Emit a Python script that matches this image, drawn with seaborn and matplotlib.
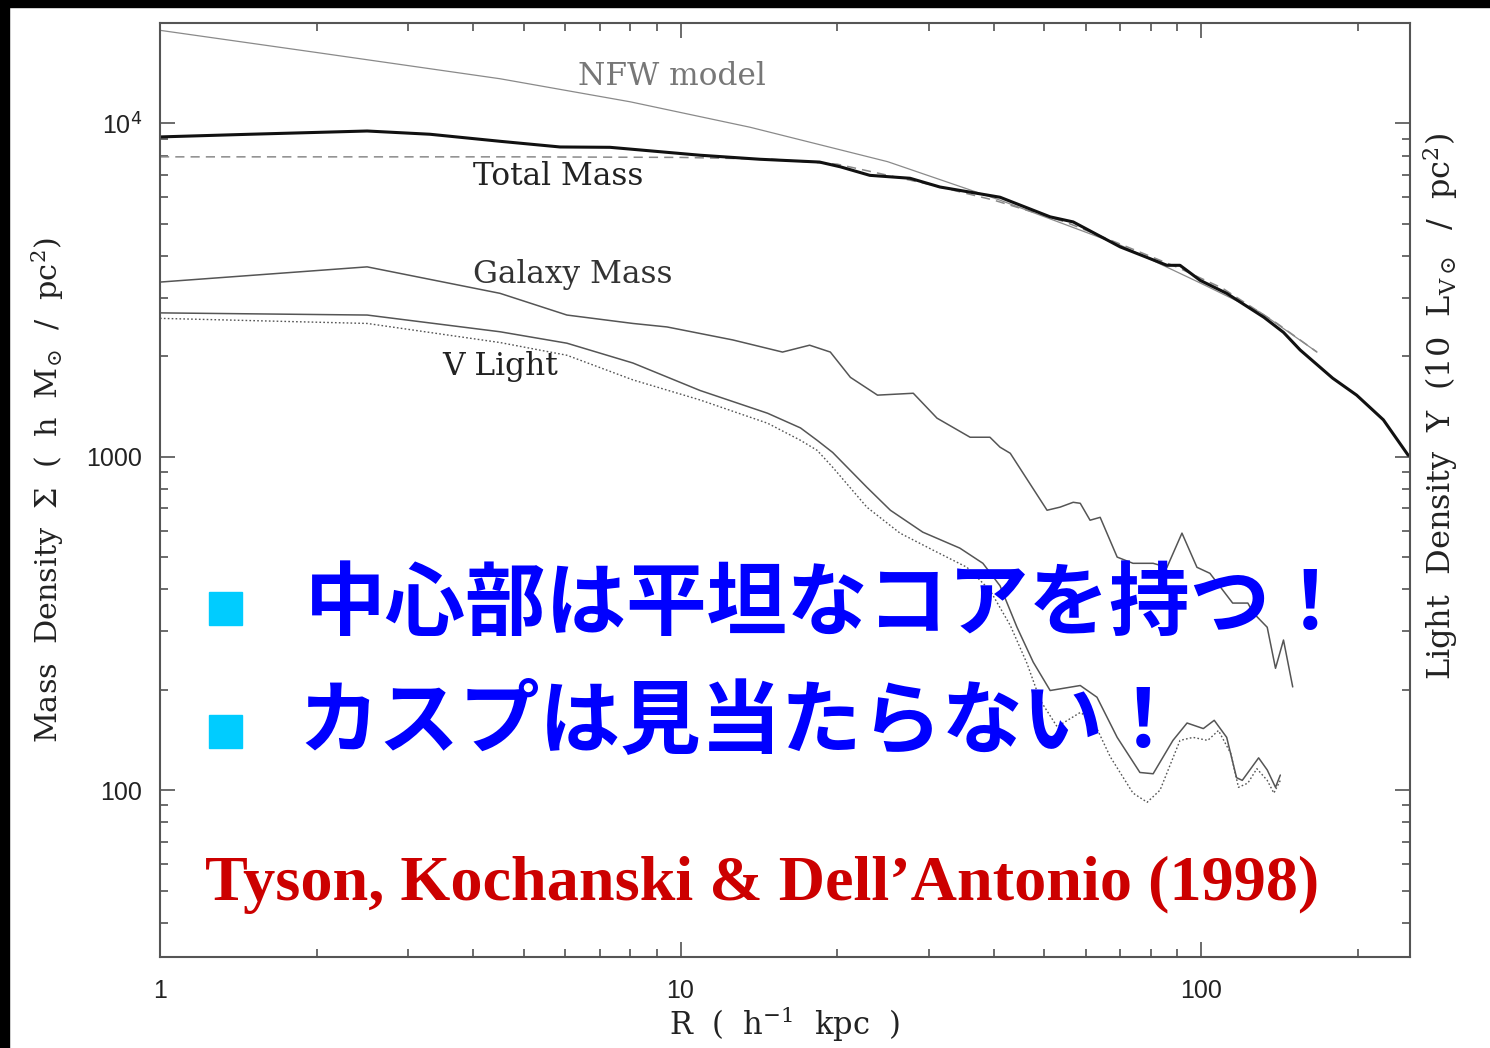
import numpy as np
import matplotlib
matplotlib.use("Agg")
import matplotlib.pyplot as plt
from matplotlib.patches import Rectangle
from matplotlib.ticker import LogLocator, NullFormatter
import seaborn as sns

# ---- surface density profiles: R in h^-1 kpc, Sigma in h Msun / pc^2 ----
total_r = [1.0, 1.49, 2.5, 3.3, 4.5, 5.87, 7.32, 10.9, 14.2, 18.5, 20.3, 23.1, 27.6, 31.5,
           41.1, 51.3, 56.8, 69.9, 86.0, 91.1, 99.6, 112, 132, 144, 155, 179, 199, 224, 250]
total_sigma = [9100, 9270, 9480, 9270, 8830, 8490, 8470, 8020, 7800, 7650, 7400, 6980, 6840, 6440,
               6000, 5240, 5060, 4260, 3750, 3750, 3380, 3090, 2620, 2360, 2090, 1720, 1530, 1290, 1010]

core_r = [1, 5, 10, 15, 20, 30, 40, 55, 70, 90, 110, 140, 167]
core_sigma = [7930, 7930, 7900, 7800, 7540, 6560, 5880, 5050, 4340, 3700, 3200, 2510, 2060]

nfw_r = [1, 2, 4.5, 8, 13.6, 25, 41.1, 70, 100, 130, 167]
nfw_sigma = [19000, 16300, 13600, 11600, 9730, 7670, 5880, 4310, 3310, 2710, 2060]

galaxy_r = [1, 2.5, 4.5, 6.05, 8.1, 9.42, 12.6, 15.7, 17.7, 19.4, 21.2, 23.9, 28.0, 31.1, 36.0,
            39.3, 41.1, 43.0, 50.6, 53.6, 56.8, 58.6, 61.2, 64.0, 69.0, 74.0, 80.9, 86.0, 91.9,
            98.2, 104, 115, 123, 126, 134, 139, 144, 150]
galaxy_sigma = [3340, 3710, 3090, 2660, 2510, 2450, 2240, 2060, 2160, 2060, 1730, 1530, 1550, 1305, 1144,
                1144, 1068, 1024, 691, 706, 730, 725, 645, 658, 500, 479, 479, 466, 590,
                466, 447, 364, 364, 340, 308, 232, 282, 204]

vlight_r = [1, 2.5, 4.5, 6.05, 8.1, 10.9, 14.7, 17.0, 18.3, 19.6, 22.8, 25.3, 29.2, 34.4, 38.1,
            41.1, 44.3, 47.6, 51.3, 58.6, 63.1, 69.0, 76.3, 80.9, 88.3, 94.0, 101, 106, 112, 117,
            120, 129, 134, 139, 142]
vlight_sigma = [2700, 2660, 2370, 2190, 1910, 1580, 1350, 1220, 1120, 1030, 810, 691, 594, 532, 479,
                410, 308, 242, 199, 206, 190, 144, 113, 112, 141, 159, 153, 162, 144, 109,
                107, 125, 115, 102, 111]

vdot_r = [1, 2.5, 4.5, 6.05, 8.1, 10.9, 14.7, 17.0, 18.3, 19.6, 22.8, 26.4, 30.6, 35.5, 39.3,
          43.0, 46.3, 49.1, 52.9, 58.6, 62.0, 66.9, 74.0, 78.8, 83.4, 91.1, 96.5, 103, 108, 114,
          118, 123, 128, 134, 138, 142]
vdot_sigma = [2600, 2510, 2200, 2015, 1700, 1480, 1260, 1120, 1045, 930, 706, 590, 524, 466, 398,
              312, 240, 186, 155, 171, 162, 126, 98, 92, 100, 141, 144, 141, 151, 129,
              102, 105, 116, 107, 98, 107]

x_ticks = [1, 10, 100]
x_ticklabels = ["1", "10", "100"]
y_ticks = [100, 1000, 10000]
y_ticklabels = ["100", "1000", r"10$^{\mathsf{4}}$"]

# ---- style ----
sns.set_theme(style="ticks")
plt.rcParams["font.family"] = ["Liberation Sans", "DejaVu Sans"]
plt.rcParams["mathtext.fontset"] = "dejavuserif"
SERIF = ["DejaVu Serif"]

W, H = 1490, 1048
fig = plt.figure(figsize=(W / 100, H / 100), dpi=100)
fig.patch.set_facecolor("white")


def fx(px):
    return px / W


def fy(py):
    return 1 - py / H


ax = fig.add_axes([fx(160), fy(957), 1250 / W, 934 / H])
ax.set_facecolor("white")
ax.set_xscale("log")
ax.set_yscale("log")

line_kw = dict(ax=ax, sort=False, estimator=None, legend=False)
sns.lineplot(x=nfw_r, y=nfw_sigma, color="#8a8a8a", linewidth=0.9, **line_kw)
sns.lineplot(x=core_r, y=core_sigma, color="#8a8a8a", linewidth=1.1,
             linestyle=(0, (6, 4)), **line_kw)
sns.lineplot(x=galaxy_r, y=galaxy_sigma, color="#555555", linewidth=1.1, **line_kw)
sns.lineplot(x=vlight_r, y=vlight_sigma, color="#555555", linewidth=1.1, **line_kw)
sns.lineplot(x=vdot_r, y=vdot_sigma, color="#555555", linewidth=1.0,
             linestyle=(0, (1.2, 1.6)), **line_kw)
sns.lineplot(x=total_r, y=total_sigma, color="#111111", linewidth=2.2, **line_kw)

ax.set_xlim(1, 252)
ax.set_ylim(31.6, 19985)

ax.set_xticks(x_ticks)
ax.set_xticklabels(x_ticklabels)
ax.set_yticks(y_ticks)
ax.set_yticklabels(y_ticklabels)
ax.xaxis.set_minor_locator(LogLocator(base=10, subs=np.arange(2, 10)))
ax.yaxis.set_minor_locator(LogLocator(base=10, subs=np.arange(2, 10)))
ax.xaxis.set_minor_formatter(NullFormatter())
ax.yaxis.set_minor_formatter(NullFormatter())

ax.tick_params(which="both", direction="in", top=True, right=True,
               color="#444444", width=1.1, labelcolor="#222222")
ax.tick_params(which="major", length=11)
ax.tick_params(which="minor", length=5.5)
ax.tick_params(axis="x", pad=16, labelsize=18)
ax.tick_params(axis="y", pad=13, labelsize=18)

for sp in ax.spines.values():
    sp.set_color("#555555")
    sp.set_linewidth(1.5)

# axis titles
ax.set_xlabel(r"R  (  h$^{-1}$  kpc  )", fontsize=22, family=SERIF, color="#222222")
ax.xaxis.label.set_verticalalignment("center")
ax.xaxis.set_label_coords(0.5, -0.0717)

ax.set_ylabel(r"Mass  Density  $\Sigma$  (  h  M$_{\odot}$  /  pc$^2$)", fontsize=21.8,
              family=SERIF, color="#222222")
ax.yaxis.label.set_verticalalignment("center")
ax.yaxis.set_label_coords(-0.0896, 0.5)

fig.text(fx(1440), fy(407),
         r"Light  Density  $\Upsilon$  (10  L$_{\mathrm{V}\odot}$  /  pc$^2$)",
         rotation=90, ha="center", va="center", fontsize=23, family=SERIF, color="#222222")

# curve names
label_kw = dict(fontsize=22.5, family=SERIF, ha="left", va="baseline")
fig.text(fx(578), fy(85), "NFW model", color="#777777", **label_kw)
fig.text(fx(473), fy(185), "Total Mass", color="#222222", **label_kw)
fig.text(fx(473), fy(283), "Galaxy Mass", color="#333333", **label_kw)
fig.text(fx(442), fy(375), "V Light", color="#222222", **label_kw)

# bullet points
for top in (592, 715):
    fig.patches.append(Rectangle((fx(209), fy(top + 33)), 33 / W, 33 / H,
                                 transform=fig.transFigure, color="#00CCFF", zorder=5))

jp_kw = dict(fontsize=58, fontweight="bold", color="#0000FF",
             family=["Noto Sans CJK JP", "DejaVu Sans"], ha="left", va="baseline", zorder=6)
fig.text(fx(305), fy(629), "中心部は平坦なコアを持つ！", **jp_kw)
fig.text(fx(298), fy(746), "カスプは見当たらない！", **jp_kw)

fig.text(fx(205), fy(900), "Tyson, Kochanski & Dell’Antonio (1998)", fontsize=46.2,
         fontweight="bold", color="#CC0000", family=["Liberation Serif", "DejaVu Serif"],
         ha="left", va="baseline", zorder=6)

# black frame strips along the top and left edges
fig.patches.append(Rectangle((0, fy(7)), 1, 7 / H, transform=fig.transFigure,
                             color="black", zorder=10))
fig.patches.append(Rectangle((0, 0), 9 / W, 1, transform=fig.transFigure,
                             color="black", zorder=10))

fig.savefig("out.png", dpi=100, facecolor="white")
